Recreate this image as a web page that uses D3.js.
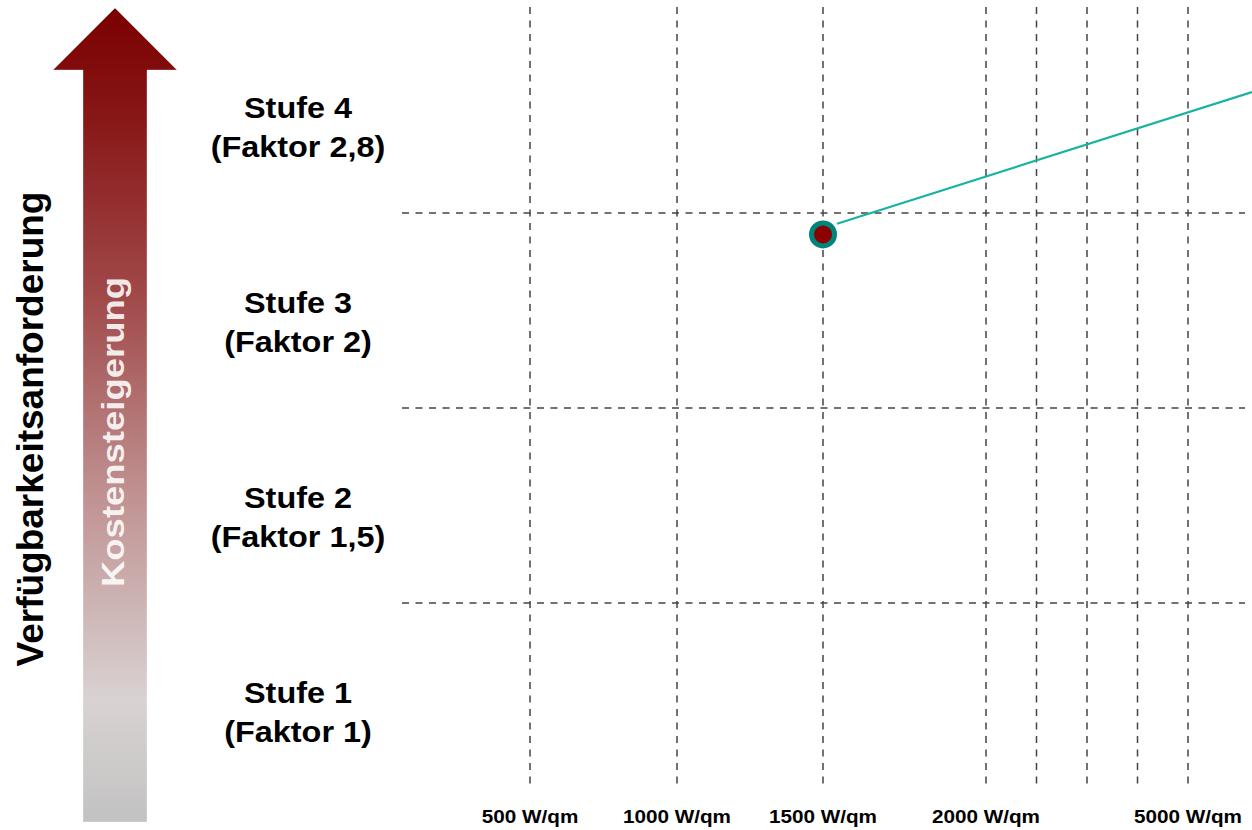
<!DOCTYPE html>
<html>
<head>
<meta charset="utf-8">
<script src="https://cdn.jsdelivr.net/npm/d3@7"></script>
<style>
  html, body { margin: 0; padding: 0; background: #ffffff; }
  svg { display: block; }
  text { font-family: "Liberation Sans", Arial, sans-serif; font-weight: bold; }
</style>
</head>
<body>
<svg id="chart" width="1252" height="830"></svg>
<script>
// Availability levels (bottom to top) and their cost factors
const levelNames   = ["Stufe 1", "Stufe 2", "Stufe 3", "Stufe 4"];
const levelFactors = ["(Faktor 1)", "(Faktor 1,5)", "(Faktor 2)", "(Faktor 2,8)"];

// Power density axis (W/qm)
const xTickValues  = [500, 1000, 1500, 2000, 5000];
const xTickLabels  = ["500 W/qm", "1000 W/qm", "1500 W/qm", "2000 W/qm", "5000 W/qm"];
const xMinorGrid   = [2750, 3500, 4250];

// Marked operating point and the trend leaving it
const pointW       = [1500];
const pointLevel   = [2.89];
const trendW       = [1543, 5950];
const trendLevel   = [2.945, 3.62];

const svg = d3.select("#chart");

// Scales: level 0..4 spans the four bands; the W/qm axis is drawn piecewise
const y = d3.scaleLinear().domain([0, levelNames.length]).range([798, 18]);
const x = d3.scaleLinear().domain(xTickValues).range([530, 677, 823, 986, 1188]);

// ---- Arrow with gradient ----
const defs = svg.append("defs");
const grad = defs.append("linearGradient")
  .attr("id", "arrowGrad").attr("x1", 0).attr("y1", 0).attr("x2", 0).attr("y2", 1);
[
  [0.00, "#7a0000"],
  [0.12, "#861414"],
  [0.35, "#a04848"],
  [0.60, "#c09292"],
  [0.85, "#d9d2d2"],
  [1.00, "#c2c2c2"]
].forEach(([o, c]) => grad.append("stop").attr("offset", o).attr("stop-color", c));

const ax = 115, tipY = 8, headY = 70, headHalf = 62, shaftHalf = 32, baseY = 822;
svg.append("path")
  .attr("d", `M${ax},${tipY} L${ax + headHalf},${headY} L${ax + shaftHalf},${headY} L${ax + shaftHalf},${baseY} ` +
             `L${ax - shaftHalf},${baseY} L${ax - shaftHalf},${headY} L${ax - headHalf},${headY} Z`)
  .attr("fill", "url(#arrowGrad)")
  .attr("stroke", "#ffffff").attr("stroke-opacity", 0.35).attr("stroke-width", 1);

// Text inside the arrow
svg.append("text")
  .attr("transform", `translate(124,432) rotate(-90) scale(1.14,1)`)
  .attr("text-anchor", "middle")
  .attr("font-size", 32)
  .attr("fill", "#ffffff").attr("fill-opacity", 0.88)
  .text("Kostensteigerung");

// Vertical axis title
svg.append("text")
  .attr("transform", `translate(43,429) rotate(-90)`)
  .attr("text-anchor", "middle")
  .attr("font-size", 37)
  .attr("fill", "#000000")
  .text("Verfügbarkeitsanforderung");

// ---- Grid ----
const gridStyle = sel => sel
  .attr("stroke", "#444444").attr("stroke-width", 1.5)
  .attr("stroke-dasharray", "7,6.5").attr("fill", "none");

const grid = svg.append("g");
// Horizontal band boundaries between levels
grid.selectAll("line.h")
  .data(d3.range(1, levelNames.length))
  .join("line").attr("class", "h")
  .attr("x1", 402).attr("x2", 1245)
  .attr("y1", d => y(d)).attr("y2", d => y(d))
  .call(gridStyle);

// Vertical lines at labelled and minor W/qm values
grid.selectAll("line.v")
  .data(xTickValues.concat(xMinorGrid))
  .join("line").attr("class", "v")
  .attr("x1", d => x(d)).attr("x2", d => x(d))
  .attr("y1", 7).attr("y2", 786)
  .call(gridStyle);

// ---- Level labels ----
const labels = svg.append("g");
levelNames.forEach((name, i) => {
  const cy = y(i + 0.5);
  const t = labels.append("text")
    .attr("text-anchor", "middle")
    .attr("font-size", 30)
    .attr("fill", "#000000")
    .attr("transform", `translate(298,${cy + 2}) scale(1.08,1)`);
  t.append("tspan").attr("x", 0).attr("y", 0).text(name);
  t.append("tspan").attr("x", 0).attr("y", 40).text(levelFactors[i]);
});

// ---- X tick labels ----
svg.append("g").selectAll("text")
  .data(xTickValues)
  .join("text")
  .attr("transform", d => `translate(${x(d)},823) scale(1.15,1)`)
  .attr("text-anchor", "middle")
  .attr("font-size", 18)
  .attr("fill", "#000000")
  .text((d, i) => xTickLabels[i]);

// ---- Trend line ----
const trend = trendW.map((w, i) => ({ w, lv: trendLevel[i] }));
svg.append("path")
  .datum(trend)
  .attr("d", d3.line().x(d => x(d.w)).y(d => y(d.lv)))
  .attr("fill", "none")
  .attr("stroke", "#16b3a0")
  .attr("stroke-width", 2.2);

// ---- Operating point ----
svg.selectAll("circle.pt")
  .data(pointW.map((w, i) => ({ w, lv: pointLevel[i] })))
  .join("circle").attr("class", "pt")
  .attr("cx", d => x(d.w)).attr("cy", d => y(d.lv))
  .attr("r", 11.5)
  .attr("fill", "#8b0000")
  .attr("stroke", "#00857a")
  .attr("stroke-width", 5);
</script>
</body>
</html>
